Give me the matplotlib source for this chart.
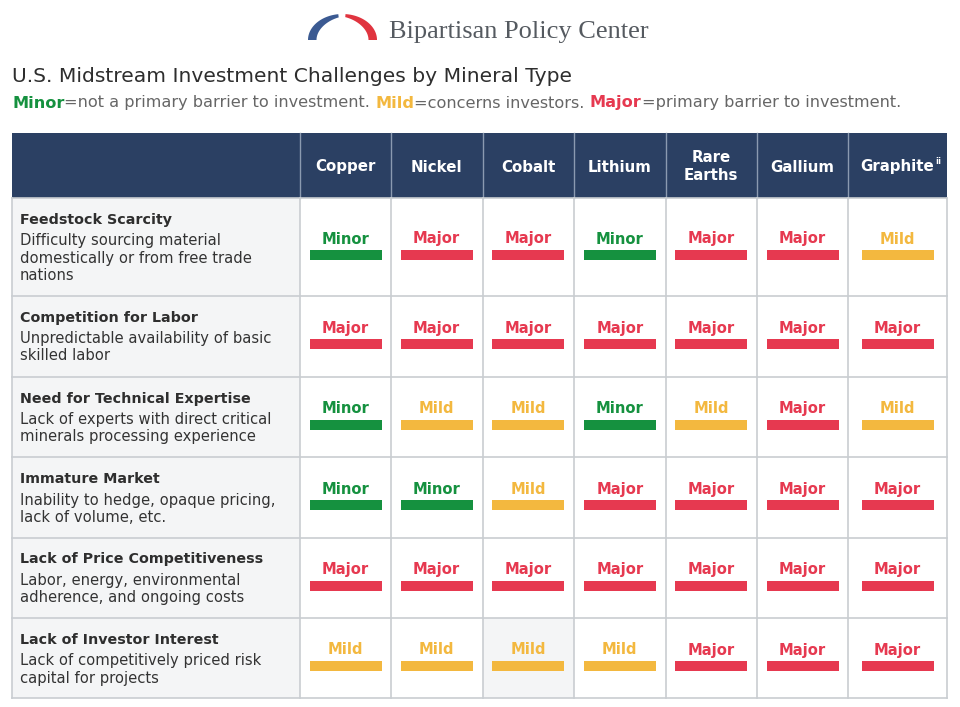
import matplotlib.pyplot as plt
import numpy as np
from matplotlib.patches import Rectangle, Polygon

# ---- data ----
minerals = ['Copper', 'Nickel', 'Cobalt', 'Lithium', 'Rare\nEarths', 'Gallium', 'Graphite']
challenges = [
    'Feedstock Scarcity',
    'Competition for Labor',
    'Need for Technical Expertise',
    'Immature Market',
    'Lack of Price Competitiveness',
    'Lack of Investor Interest',
]
descriptions = [
    'Difficulty sourcing material\ndomestically or from free trade\nnations',
    'Unpredictable availability of basic\nskilled labor',
    'Lack of experts with direct critical\nminerals processing experience',
    'Inability to hedge, opaque pricing,\nlack of volume, etc.',
    'Labor, energy, environmental\nadherence, and ongoing costs',
    'Lack of competitively priced risk\ncapital for projects',
]
ratings = [
    ['Minor', 'Major', 'Major', 'Minor', 'Major', 'Major', 'Mild'],
    ['Major', 'Major', 'Major', 'Major', 'Major', 'Major', 'Major'],
    ['Minor', 'Mild', 'Mild', 'Minor', 'Mild', 'Major', 'Mild'],
    ['Minor', 'Minor', 'Mild', 'Major', 'Major', 'Major', 'Major'],
    ['Major', 'Major', 'Major', 'Major', 'Major', 'Major', 'Major'],
    ['Mild', 'Mild', 'Mild', 'Mild', 'Major', 'Major', 'Major'],
]
legend_parts = [
    ('Minor', '=not a primary barrier to investment. '),
    ('Mild', '=concerns investors. '),
    ('Major', '=primary barrier to investment.'),
]

# ---- style ----
FONT = 'DejaVu Sans'
colors = {'Minor': '#15913f', 'Mild': '#f3b83f', 'Major': '#e63950'}
navy = '#2b4063'
grid = '#c9cdd1'
text_dark = '#2e2e2e'
text_gray = '#666666'

col_edges = [300, 391, 482.5, 574, 665.5, 757, 848, 947]
row_edges = [198, 296, 376.5, 457, 537.5, 618, 698]
left, header_top = 12, 133

fig = plt.figure(figsize=(9.6, 7.07), dpi=100)
ax = fig.add_axes([0, 0, 1, 1])
ax.set_xlim(0, 960)
ax.set_ylim(707, 0)
ax.axis('off')
fig.canvas.draw()
r = fig.canvas.get_renderer()
inv = ax.transData.inverted()


def right_edge(t):
    bb = t.get_window_extent(renderer=r)
    return inv.transform((bb.x1, 0))[0]


def arch(t0, t1, color, cx=342.5, base=40, a=34.5, b=26):
    # tapered half-arch of the logo, thick at the base, thin at the top
    t = np.linspace(t0, t1, 60)
    w = 2.5 + 6 * np.abs(np.cos(t))
    outer = np.column_stack([cx + a * np.cos(t), base - b * np.sin(t)])
    inner = np.column_stack([cx + (a - w) * np.cos(t), base - (b - w) * np.sin(t)])
    ax.add_patch(Polygon(np.vstack([outer, inner[::-1]]), closed=True,
                         facecolor=color, edgecolor='none'))


# logo
arch(np.pi, np.radians(97), '#3b5a92')
arch(np.radians(85), 0, '#e0343f')
ax.text(389, 32, 'Bipartisan Policy Center', fontsize=19, family='Liberation Serif',
        color='#555a60', va='center', ha='left')

# title
ax.text(left, 77, 'U.S. Midstream Investment Challenges by Mineral Type', fontsize=14.6,
        family=FONT, color=text_dark, va='center')

# legend line
x = left
for key, rest in legend_parts:
    for s, c, w in ((key, colors[key], 'bold'), (rest, text_gray, 'normal')):
        t = ax.text(x, 103, s, fontsize=11.6, family=FONT, weight=w, color=c, va='center')
        x = right_edge(t)

# header
ax.add_patch(Rectangle((left, header_top), col_edges[-1] - left, row_edges[0] - header_top,
                       facecolor=navy, edgecolor='none'))
for i, m in enumerate(minerals):
    cx = (col_edges[i] + col_edges[i + 1]) / 2
    t = ax.text(cx, 167, m, fontsize=10.8, family=FONT, weight='bold', color='white',
                ha='center', va='center', linespacing=1.25)
    if m == 'Graphite':
        ax.text(right_edge(t) + 1, 162, 'ii', fontsize=6, family=FONT, weight='bold',
                color='white', ha='left', va='center')
for xe in col_edges[:-1]:
    ax.plot([xe, xe], [header_top, row_edges[0]], color='#8b9ab0', lw=1)

# body
for j, (name, desc) in enumerate(zip(challenges, descriptions)):
    top, bot = row_edges[j], row_edges[j + 1]
    ax.add_patch(Rectangle((left, top), col_edges[0] - left, bot - top,
                           facecolor='#f4f5f6', edgecolor='none'))
    ax.text(20, top + 22, name, fontsize=10.3, family=FONT, weight='bold',
            color=text_dark, va='center')
    for k, line in enumerate(desc.split('\n')):
        ax.text(20, top + 43 + 17 * k, line, fontsize=10.6, family=FONT,
                color='#333333', va='center')
    cy = (top + bot) / 2
    for i, lvl in enumerate(ratings[j]):
        x0, x1 = col_edges[i], col_edges[i + 1]
        cx = (x0 + x1) / 2
        if j == 5 and i == 2:
            ax.add_patch(Rectangle((x0, top), x1 - x0, bot - top,
                                   facecolor='#f4f5f6', edgecolor='none'))
        ax.text(cx, cy - 8, lvl, fontsize=10.6, family=FONT, weight='bold',
                color=colors[lvl], ha='center', va='center')
        ax.add_patch(Rectangle((cx - 36, cy + 3), 72, 10, facecolor=colors[lvl],
                               edgecolor='none'))

# grid lines
for ye in row_edges:
    ax.plot([left, col_edges[-1]], [ye, ye], color=grid, lw=1.2)
for xe in [left] + col_edges:
    ax.plot([xe, xe], [row_edges[0], row_edges[-1]], color=grid, lw=1.2)

fig.savefig('out.png', dpi=100)
